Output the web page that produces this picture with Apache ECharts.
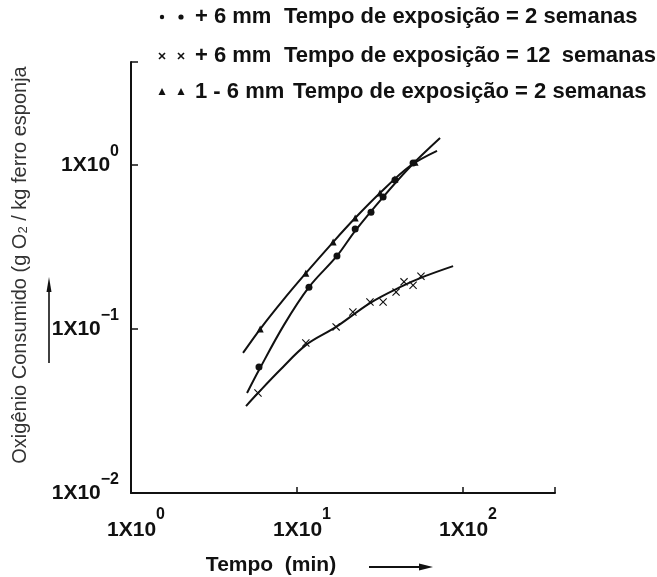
<!DOCTYPE html>
<html>
<head>
<meta charset="utf-8">
<script src="https://cdn.jsdelivr.net/npm/echarts@6/dist/echarts.min.js"></script>
<style>
  html, body { margin: 0; padding: 0; background: #fff; }
  #chart { width: 657px; height: 577px; }
</style>
</head>
<body>
<div id="chart"></div>
<script>
// Oxygen consumed by sponge iron vs. time (log-log)

// 1 - 6 mm, 2 weeks exposure (triangles)
const fineTime   = [6.0, 11.3, 16.5, 22.4, 31.6, 38.9, 51.4];
const fineOxygen = [0.100, 0.219, 0.339, 0.475, 0.675, 0.822, 1.04];
const fineCurveTime   = [4.73, 6.0, 8.24, 11.3, 16.5, 22.4, 31.6, 47.9, 69.7];
const fineCurveOxygen = [0.0715, 0.100, 0.150, 0.219, 0.339, 0.475, 0.675, 0.986, 1.22];

// +6 mm, 2 weeks exposure (dots)
const coarseTime   = [5.9, 11.8, 17.4, 22.4, 27.9, 33.0, 38.9, 50.0];
const coarseOxygen = [0.0586, 0.180, 0.279, 0.407, 0.516, 0.638, 0.811, 1.03];
const coarseCurveTime   = [5.0, 5.9, 8.35, 11.8, 17.4, 22.4, 33.0, 47.9, 72.7];
const coarseCurveOxygen = [0.0407, 0.0562, 0.106, 0.180, 0.279, 0.397, 0.638, 0.973, 1.46];

// +6 mm, 12 weeks exposure (crosses)
const agedTime   = [5.82, 11.3, 17.2, 21.7, 27.5, 33.0, 39.5, 44.1, 50.0, 55.8];
const agedOxygen = [0.0407, 0.0822, 0.103, 0.127, 0.146, 0.146, 0.168, 0.194, 0.185, 0.210];
const agedCurveTime   = [4.93, 5.82, 7.9, 11.3, 17.2, 27.5, 41.7, 59.0, 87.1];
const agedCurveOxygen = [0.0339, 0.0407, 0.0562, 0.0798, 0.103, 0.144, 0.180, 0.210, 0.242];

// axis decades that carry a label
const xTickExponents = [0, 1, 2];
const yTickExponents = [-2, -1, 0];

// legend rows
const legendSizes = ['+ 6 mm', '+ 6 mm', '1 - 6 mm'];
const legendWeeks = ['2', '12', '2'];

const INK = '#111';
const FONT = 'Liberation Sans, Arial, sans-serif';
const crossPath = 'path://M1,0L5,4L9,0L10,1L6,5L10,9L9,10L5,6L1,10L0,9L4,5L0,1Z';

function zip(xs, ys) { return xs.map((x, i) => [x, ys[i]]); }

// "1X10" with a raised exponent; the h token only sets the line height
function exponentOf(v, allowed) {
  const l = Math.log10(v);
  const e = Math.round(l);
  if (Math.abs(l - e) > 1e-6 || allowed.indexOf(e) < 0) return null;
  return e < 0 ? '\u2212' + Math.abs(e) : String(e);
}

const chart = echarts.init(document.getElementById('chart'), null, { renderer: 'canvas' });

const curveStyle = { color: INK, width: 2 };
function curve(xs, ys) {
  return {
    type: 'line', data: zip(xs, ys), smooth: 0.35, showSymbol: false,
    lineStyle: curveStyle, silent: true, z: 2
  };
}
function points(xs, ys, symbol, size) {
  return {
    type: 'scatter', data: zip(xs, ys), symbol: symbol, symbolSize: size,
    itemStyle: { color: INK, opacity: 1 }, silent: true, z: 3
  };
}

// legend drawn as graphic rows
const rowY = [17, 56, 92];
const legendGraphics = [];
const markerX = [162, 181];
markerX.forEach(function (mx, k) {
  legendGraphics.push({ type: 'circle', shape: { cx: mx, cy: rowY[0], r: k ? 2.6 : 2.2 }, style: { fill: INK } });
  legendGraphics.push({ type: 'line', shape: { x1: mx - 3, y1: rowY[1] - 3, x2: mx + 3, y2: rowY[1] + 3 }, style: { stroke: INK, lineWidth: 1.6 } });
  legendGraphics.push({ type: 'line', shape: { x1: mx - 3, y1: rowY[1] + 3, x2: mx + 3, y2: rowY[1] - 3 }, style: { stroke: INK, lineWidth: 1.6 } });
  legendGraphics.push({ type: 'polygon', shape: { points: [[mx, rowY[2] - 4], [mx - 3.5, rowY[2] + 3], [mx + 3.5, rowY[2] + 3]] }, style: { fill: INK } });
});
function legendText(x, y, txt, align) {
  return { type: 'text', x: x, y: y, style: { text: txt, fill: INK, align: align || 'left', verticalAlign: 'middle', fontFamily: FONT, fontWeight: 'bold', fontSize: 22 } };
}
legendSizes.forEach(function (txt, i) { legendGraphics.push(legendText(195, rowY[i], txt)); });
legendGraphics.push(legendText(284, rowY[0], 'Tempo de exposição = ' + legendWeeks[0] + ' semanas'));
legendGraphics.push(legendText(284, rowY[1], 'Tempo de exposição ='));
legendGraphics.push(legendText(526, rowY[1], legendWeeks[1]));
legendGraphics.push(legendText(656, rowY[1], 'semanas', 'right'));
legendGraphics.push(legendText(293, rowY[2], 'Tempo de exposição = ' + legendWeeks[2] + ' semanas'));

const option = {
  backgroundColor: '#fff',
  animation: false,
  grid: { left: 131, right: 102, top: 62, bottom: 84, containLabel: false },
  xAxis: {
    type: 'log', logBase: 10, min: 1, max: 358,
    axisLine: { show: true, lineStyle: { color: INK, width: 2 } },
    axisTick: { show: true, inside: true, length: 6, lineStyle: { color: INK, width: 1.5 } },
    splitLine: { show: false },
    axisLabel: {
      margin: 14,
      formatter: function (v) {
        const s = exponentOf(v, xTickExponents);
        return s === null ? '' : '{h| }{b|1X10}{s|' + s + '}';
      },
      rich: {
        b: { fontFamily: FONT, fontWeight: 'bold', fontSize: 21, lineHeight: 21, color: INK, verticalAlign: 'bottom' },
        s: { fontFamily: FONT, fontWeight: 'bold', fontSize: 16, lineHeight: 16, color: INK, verticalAlign: 'top' },
        h: { fontSize: 1, lineHeight: 34, width: 10 }
      }
    }
  },
  yAxis: {
    type: 'log', logBase: 10, min: 0.01, max: 4.25,
    axisLine: { show: true, lineStyle: { color: INK, width: 2 } },
    axisTick: { show: true, inside: true, length: 7, lineStyle: { color: INK, width: 1.5 } },
    splitLine: { show: false },
    axisLabel: {
      margin: 12,
      formatter: function (v) {
        const s = exponentOf(v, yTickExponents);
        return s === null ? '' : '{b|1X10}{s|' + s + '}{h| }';
      },
      rich: {
        b: { fontFamily: FONT, fontWeight: 'bold', fontSize: 21, lineHeight: 21, color: INK, verticalAlign: 'middle' },
        s: { fontFamily: FONT, fontWeight: 'bold', fontSize: 16, lineHeight: 16, color: INK, verticalAlign: 'top' },
        h: { fontSize: 1, lineHeight: 42, width: 0 }
      }
    }
  },
  series: [
    curve(fineCurveTime, fineCurveOxygen),
    curve(coarseCurveTime, coarseCurveOxygen),
    curve(agedCurveTime, agedCurveOxygen),
    points(fineTime, fineOxygen, 'triangle', 7),
    points(coarseTime, coarseOxygen, 'circle', 7),
    points(agedTime, agedOxygen, crossPath, 8)
  ],
  graphic: legendGraphics.concat([
    // vertical axis title
    {
      type: 'text', x: 20, y: 265, rotation: Math.PI / 2,
      style: {
        text: 'Oxigênio Consumido (g O{sub|2} / kg ferro esponja',
        fontFamily: FONT, fontSize: 20, fill: '#333',
        align: 'center', verticalAlign: 'middle',
        rich: { sub: { fontSize: 13, fill: '#333', verticalAlign: 'bottom' } }
      }
    },
    // arrow beside the vertical title
    { type: 'line', shape: { x1: 49, y1: 363, x2: 49, y2: 286 }, style: { stroke: INK, lineWidth: 1.6 } },
    { type: 'polygon', shape: { points: [[49, 277], [46.5, 292], [51.5, 292]] }, style: { fill: INK } },
    // horizontal axis title and arrow
    {
      type: 'text', x: 271, y: 565,
      style: { text: 'Tempo  (min)', fontFamily: FONT, fontWeight: 'bold', fontSize: 21, fill: INK, align: 'center', verticalAlign: 'middle' }
    },
    { type: 'line', shape: { x1: 369, y1: 567, x2: 422, y2: 567 }, style: { stroke: INK, lineWidth: 2 } },
    { type: 'polygon', shape: { points: [[433, 567], [419, 563.5], [419, 570.5]] }, style: { fill: INK } }
  ])
};

chart.setOption(option);
</script>
</body>
</html>
